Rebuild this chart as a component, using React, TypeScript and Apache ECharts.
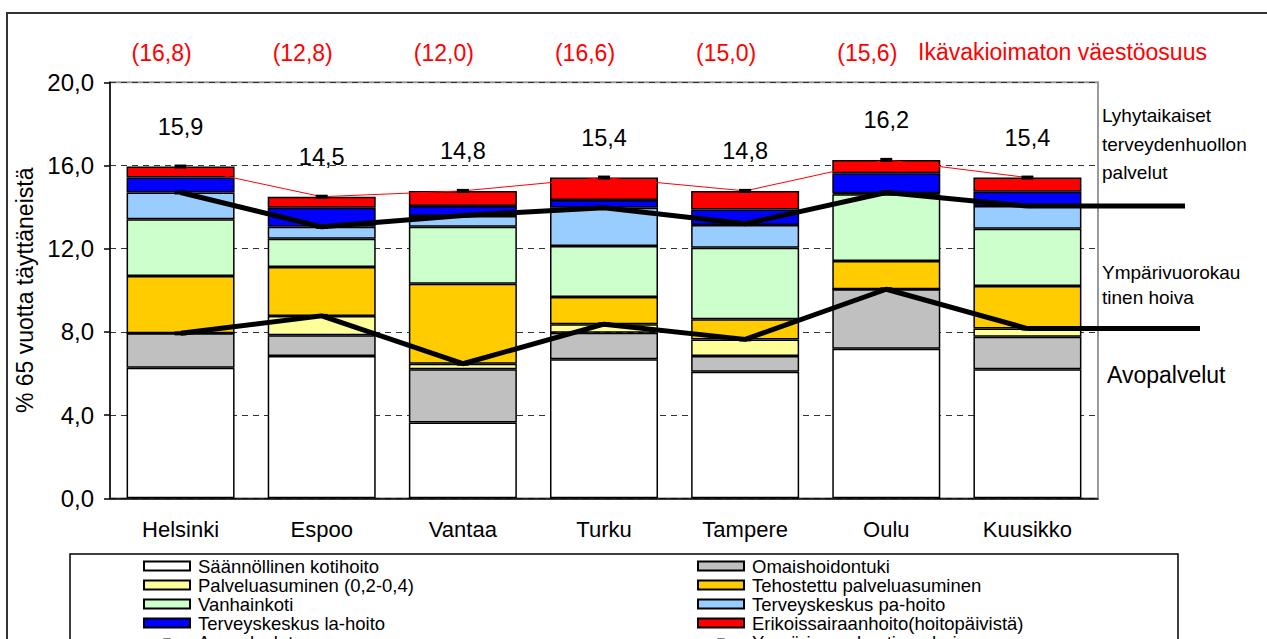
import React, { useEffect, useRef } from "react";
import * as echarts from "echarts";

const categories = ["Helsinki", "Espoo", "Vantaa", "Turku", "Tampere", "Oulu", "Kuusikko"];
const kotihoito = [6.28, 6.84, 3.64, 6.68, 6.09, 7.19, 6.2];
const omaishoito = [1.65, 1.0, 2.56, 1.28, 0.75, 2.86, 1.57];
const palveluasuminen = [0, 0.93, 0.27, 0.41, 0.8, 0, 0.39];
const tehostettu = [2.76, 2.35, 3.85, 1.31, 0.97, 1.36, 2.05];
const vanhainkoti = [2.72, 1.36, 2.73, 2.45, 3.44, 3.21, 2.75];
const paHoito = [1.29, 0.57, 0.52, 1.84, 1.09, 0.05, 1.09];
const laHoito = [0.72, 0.92, 0.48, 0.37, 0.75, 0.96, 0.69];
const erikois = [0.53, 0.53, 0.73, 1.08, 0.89, 0.64, 0.68];

const avopalvelut = [7.93, 8.77, 6.47, 8.37, 7.64, 10.05, 8.16];
const ymparivuorokautinen = [14.7, 13.05, 13.6, 13.97, 13.2, 14.7, 14.05];
const yhteensa = [15.95, 14.5, 14.78, 15.42, 14.78, 16.27, 15.42];
const yhteensaLabels = [15.9, 14.5, 14.8, 15.4, 14.8, 16.2, 15.4];
const vaestoosuus: (number | null)[] = [16.8, 12.8, 12.0, 16.6, 15.0, 15.6, null];

const yTicks = { min: 0, max: 20, interval: 4 };

const FONT = "Liberation Sans, Arial, sans-serif";
const fmt = (v: number) => v.toFixed(1).replace(".", ",");

export default function App() {
  const ref = useRef<HTMLDivElement>(null);
  useEffect(() => {
    if (!ref.current) return;
    const chart = echarts.init(ref.current, null, { renderer: "svg" });
    const barStyle = (color: string) => ({ color, borderColor: "#000", borderWidth: 1.5 });
    const bar = (name: string, data: number[], color: string) => ({
      name,
      type: "bar",
      stack: "s",
      data,
      barWidth: 108,
      itemStyle: barStyle(color),
      z: 2,
    });
    const legendBase = {
      orient: "vertical",
      top: 556.6,
      height: 120,
      padding: 0,
      itemGap: 0,
      itemWidth: 46,
      itemHeight: 9,
      textStyle: { fontSize: 18.5, lineHeight: 18.8, color: "#000", fontFamily: FONT, padding: [0, 0, 0, 3] },
    };
    const rectItem = (name: string) => ({ name, icon: "rect" });
    const staticGraphic: any[] = [
      { type: "rect", shape: { x: 7, y: 13, width: 1400, height: 800 }, style: { fill: "none", stroke: "#333", lineWidth: 2 }, silent: true, z: 0 },
      { type: "rect", shape: { x: 70, y: 554, width: 1108, height: 200 }, style: { fill: "none", stroke: "#000", lineWidth: 1.5 }, silent: true },
      { type: "text", style: { text: "Ikävakioimaton väestöosuus", x: 918, y: 52, verticalAlign: "middle", font: `23px ${FONT}`, fill: "#ff0000" } },
      { type: "text", style: { text: "Lyhytaikaiset", x: 1102, y: 115, verticalAlign: "middle", font: `19px ${FONT}`, fill: "#000" } },
      { type: "text", style: { text: "terveydenhuollon", x: 1102, y: 144, verticalAlign: "middle", font: `19px ${FONT}`, fill: "#000" } },
      { type: "text", style: { text: "palvelut", x: 1102, y: 172, verticalAlign: "middle", font: `19px ${FONT}`, fill: "#000" } },
      { type: "text", style: { text: "Ympärivuorokau", x: 1102, y: 272, verticalAlign: "middle", font: `19px ${FONT}`, fill: "#000" } },
      { type: "text", style: { text: "tinen hoiva", x: 1102, y: 297, verticalAlign: "middle", font: `19px ${FONT}`, fill: "#000" } },
      { type: "text", style: { text: "Avopalvelut", x: 1107, y: 375, verticalAlign: "middle", font: `23px ${FONT}`, fill: "#000" } },
    ];
    const option: any = {
      animation: false,
      backgroundColor: "#fff",
      textStyle: { fontFamily: FONT },
      grid: { left: 110, top: 82.3, width: 988, height: 416, show: true, borderColor: "#999", borderWidth: 2 },
      legend: [
        {
          ...legendBase,
          data: [
            rectItem("Säännöllinen kotihoito"),
            rectItem("Palveluasuminen (0,2-0,4)"),
            rectItem("Vanhainkoti"),
            rectItem("Terveyskeskus la-hoito"),
            "Avopalvelut",
          ],
          left: 143,
        },
        {
          ...legendBase,
          data: [
            rectItem("Omaishoidontuki"),
            rectItem("Tehostettu palveluasuminen"),
            rectItem("Terveyskeskus pa-hoito"),
            rectItem("Erikoissairaanhoito(hoitopäivistä)"),
            "Ympärivuorokautinen hoiva",
          ],
          left: 697,
        },
      ],
      xAxis: [
        {
          type: "category",
          data: categories,
          position: "bottom",
          axisLine: { lineStyle: { color: "#000", width: 1.5 } },
          axisTick: { show: false },
          axisLabel: { fontSize: 22, color: "#000", margin: 20, fontFamily: FONT },
        },
        {
          type: "category",
          data: categories,
          position: "top",
          axisLine: { show: false },
          axisTick: { show: false },
          axisLabel: {
            fontSize: 23,
            color: "#ff0000",
            margin: 18,
            fontFamily: FONT,
            padding: [0, 38, 0, 0],
            formatter: (_v: string, i: number) => (vaestoosuus[i] == null ? "" : `(${fmt(vaestoosuus[i] as number)})`),
          },
        },
      ],
      yAxis: {
        type: "value",
        min: yTicks.min,
        max: yTicks.max,
        interval: yTicks.interval,
        name: "% 65 vuotta täyttäneistä",
        nameLocation: "middle",
        nameGap: 62,
        nameTextStyle: { fontSize: 23, color: "#000", fontFamily: FONT },
        axisLine: { show: true, lineStyle: { color: "#000", width: 1.5 } },
        axisTick: { show: true, length: 6, lineStyle: { color: "#000", width: 1.5 } },
        axisLabel: { fontSize: 24, color: "#000", margin: 16, formatter: (v: number) => fmt(v), fontFamily: FONT },
        splitLine: { show: true, lineStyle: { color: "#333", width: 1, type: [6, 5] } },
      },
      series: [
        bar("Säännöllinen kotihoito", kotihoito, "#ffffff"),
        bar("Omaishoidontuki", omaishoito, "#c0c0c0"),
        bar("Palveluasuminen (0,2-0,4)", palveluasuminen, "#ffff99"),
        bar("Tehostettu palveluasuminen", tehostettu, "#ffcc00"),
        bar("Vanhainkoti", vanhainkoti, "#ccffcc"),
        bar("Terveyskeskus pa-hoito", paHoito, "#99ccff"),
        bar("Terveyskeskus la-hoito", laHoito, "#0000ff"),
        bar("Erikoissairaanhoito(hoitopäivistä)", erikois, "#ff0000"),
        {
          name: "Yhteensä",
          type: "line",
          data: yhteensa,
          z: 5,
          symbol: "rect",
          symbolSize: [12, 4],
          itemStyle: { color: "#000" },
          lineStyle: { color: "#ff0000", width: 1 },
          label: {
            show: true,
            position: "top",
            distance: 26,
            fontSize: 23.5,
            color: "#000",
            fontFamily: FONT,
            formatter: (p: any) => fmt(yhteensaLabels[p.dataIndex]),
          },
        },
        {
          name: "Ympärivuorokautinen hoiva",
          type: "line",
          data: ymparivuorokautinen,
          z: 6,
          symbol: "rect",
          symbolSize: [12, 4],
          itemStyle: { color: "#000" },
          lineStyle: { color: "#000", width: 5 },
        },
        {
          name: "Avopalvelut",
          type: "line",
          data: avopalvelut,
          z: 6,
          symbol: "rect",
          symbolSize: [12, 4],
          itemStyle: { color: "#000" },
          lineStyle: { color: "#000", width: 5 },
        },
      ],
      graphic: staticGraphic,
    };
    chart.setOption(option);
    const last = categories.length - 1;
    const pY = chart.convertToPixel({ xAxisIndex: 0, yAxisIndex: 0 }, [last, ymparivuorokautinen[last]]) as number[];
    const pA = chart.convertToPixel({ xAxisIndex: 0, yAxisIndex: 0 }, [last, avopalvelut[last]]) as number[];
    chart.setOption({
      graphic: [
        ...staticGraphic,
        { type: "line", shape: { x1: pY[0], y1: pY[1], x2: 1185, y2: pY[1] }, style: { stroke: "#000", lineWidth: 5 }, z: 10 },
        { type: "line", shape: { x1: pA[0], y1: pA[1], x2: 1200, y2: pA[1] }, style: { stroke: "#000", lineWidth: 5 }, z: 10 },
      ],
    });
    return () => chart.dispose();
  }, []);
  return <div ref={ref} style={{ width: 1267, height: 639, position: "absolute", left: 0, top: 0 }} />;
}
